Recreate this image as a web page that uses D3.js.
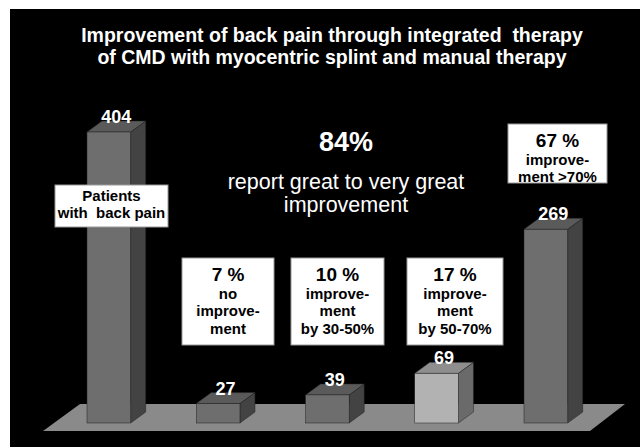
<!DOCTYPE html>
<html lang="en">
<head>
    <meta charset="UTF-8">
    <title>Improvement of back pain</title>
    <script src="https://d3js.org/d3.v7.min.js"></script>
    <style>
        body { margin: 0; background: white; }
        svg text { font-family: "Liberation Sans", Arial, sans-serif; white-space: pre; }
        .title { fill: white; font-weight: bold; font-size: 19.5px; }
        .val { fill: white; font-weight: bold; font-size: 18px; }
        .box rect { fill: white; stroke: #999; stroke-width: 1px; }
        .box text { fill: black; font-weight: bold; }
    </style>
</head>
<body>
<svg id="canvas" width="640" height="447"></svg>
<script>
    // data
    let groups = ["Patients with back pain", "no improvement", "improvement by 30-50%", "improvement by 50-70%", "improvement >70%"];
    let patients = [404, 27, 39, 69, 269];
    let shares = ["", "7 %", "10 %", "17 %", "67 %"];
    let boxLines = [
        ["Patients", "with  back pain"],
        ["no", "improve-", "ment"],
        ["improve-", "ment", "by 30-50%"],
        ["improve-", "ment", "by 50-70%"],
        ["improve-", "ment >70%"]
    ];
    let titleLines = ["Improvement of back pain through integrated  therapy",
                      "of CMD with myocentric splint and manual therapy"];
    let summary = ["84%", "report great to very great", "improvement"];

    // layout of the note boxes (left, top, width, height)
    let boxes = [
        {x: 55, y: 185, w: 113, h: 42},
        {x: 182, y: 258, w: 92, h: 87},
        {x: 291, y: 258, w: 93, h: 87},
        {x: 407, y: 258, w: 96, h: 87},
        {x: 508, y: 124, w: 99, h: 59}
    ];

    let svg = d3.select('#canvas');
    svg.append('rect').attr('x', 10).attr('y', 9).attr('width', 630).attr('height', 438).attr('fill', 'black');

    let depth = {dx: 15, dy: -11};
    let xscale = d3.scaleBand().domain(d3.range(groups.length))
        .range([65.15, 589.55]).paddingInner(0.6).paddingOuter(0.2);
    let yscale = d3.scaleLinear().domain([0, 404]).range([423, 132]);

    // floor
    let y0 = yscale(0);
    let floorPts = [[80, y0 - 19], [625, y0 - 19], [590, y0 + 8], [43, y0 + 8]];
    svg.append('polygon').attr('points', floorPts.join(' ')).attr('fill', '#8a8a8a');

    // bars as 3d blocks
    let bars = svg.append('g').selectAll('g')
        .data(patients)
        .join('g');
    function col(i, part) {
        let light = i === 3;
        if (part === 'front') return light ? '#b2b2b2' : '#6e6e6e';
        if (part === 'top') return light ? '#8e8e8e' : '#5a5a5a';
        return light ? '#6a6a6a' : '#434343';
    }
    bars.append('polygon')
        .attr('points', function (d, i) {
            let x1 = xscale(i) + xscale.bandwidth(), t = yscale(d);
            return [[x1, t], [x1 + depth.dx, t + depth.dy], [x1 + depth.dx, y0 + depth.dy], [x1, y0]].join(' ');
        })
        .attr('fill', function (d, i) { return col(i, 'side'); })
        .attr('stroke', '#222').attr('stroke-width', 0.5);
    bars.append('polygon')
        .attr('points', function (d, i) {
            let x0 = xscale(i), x1 = x0 + xscale.bandwidth(), t = yscale(d);
            return [[x0, t], [x0 + depth.dx, t + depth.dy], [x1 + depth.dx, t + depth.dy], [x1, t]].join(' ');
        })
        .attr('fill', function (d, i) { return col(i, 'top'); })
        .attr('stroke', '#222').attr('stroke-width', 0.5);
    bars.append('rect')
        .attr('x', function (d, i) { return xscale(i); })
        .attr('y', function (d) { return yscale(d); })
        .attr('width', xscale.bandwidth())
        .attr('height', function (d) { return y0 - yscale(d); })
        .attr('fill', function (d, i) { return col(i, 'front'); })
        .attr('stroke', '#222').attr('stroke-width', 0.5);
    bars.append('text')
        .attr('class', 'val')
        .attr('text-anchor', 'middle')
        .attr('x', function (d, i) { return xscale(i) + xscale.bandwidth() / 2 + depth.dx / 2; })
        .attr('y', function (d) { return yscale(d) + depth.dy + 2; })
        .text(function (d) { return d; });

    // title
    svg.append('g').selectAll('text')
        .data(titleLines).join('text')
        .attr('class', 'title')
        .attr('text-anchor', 'middle')
        .attr('x', 332)
        .attr('y', function (d, i) { return 42 + i * 22; })
        .text(function (d) { return d; });

    // 84% summary
    let sum = svg.append('g').attr('fill', 'white').attr('text-anchor', 'middle');
    sum.append('text').attr('x', 346).attr('y', 151)
        .style('font-size', '27px').style('font-weight', 'bold').text(summary[0]);
    sum.append('text').attr('x', 346).attr('y', 189)
        .style('font-size', '21.5px').text(summary[1]);
    sum.append('text').attr('x', 346).attr('y', 212)
        .style('font-size', '21.5px').text(summary[2]);

    // note boxes
    let notes = svg.append('g').selectAll('g')
        .data(boxes).join('g').attr('class', 'box');
    notes.append('rect')
        .attr('x', function (d) { return d.x; })
        .attr('y', function (d) { return d.y; })
        .attr('width', function (d) { return d.w; })
        .attr('height', function (d) { return d.h; });
    notes.each(function (b, i) {
        let g = d3.select(this);
        let cx = b.x + b.w / 2;
        let yy = b.y;
        if (shares[i]) {
            g.append('text').attr('x', cx).attr('y', b.y + 23)
                .attr('text-anchor', 'middle').style('font-size', '19px').text(shares[i]);
            yy = b.y + 23;
        } else {
            yy = b.y - 2;
        }
        boxLines[i].forEach(function (line, j) {
            g.append('text').attr('x', cx).attr('y', yy + 17.5 * (j + 1))
                .attr('text-anchor', 'middle').style('font-size', '15px').text(line);
        });
    });
</script>
</body>
</html>
